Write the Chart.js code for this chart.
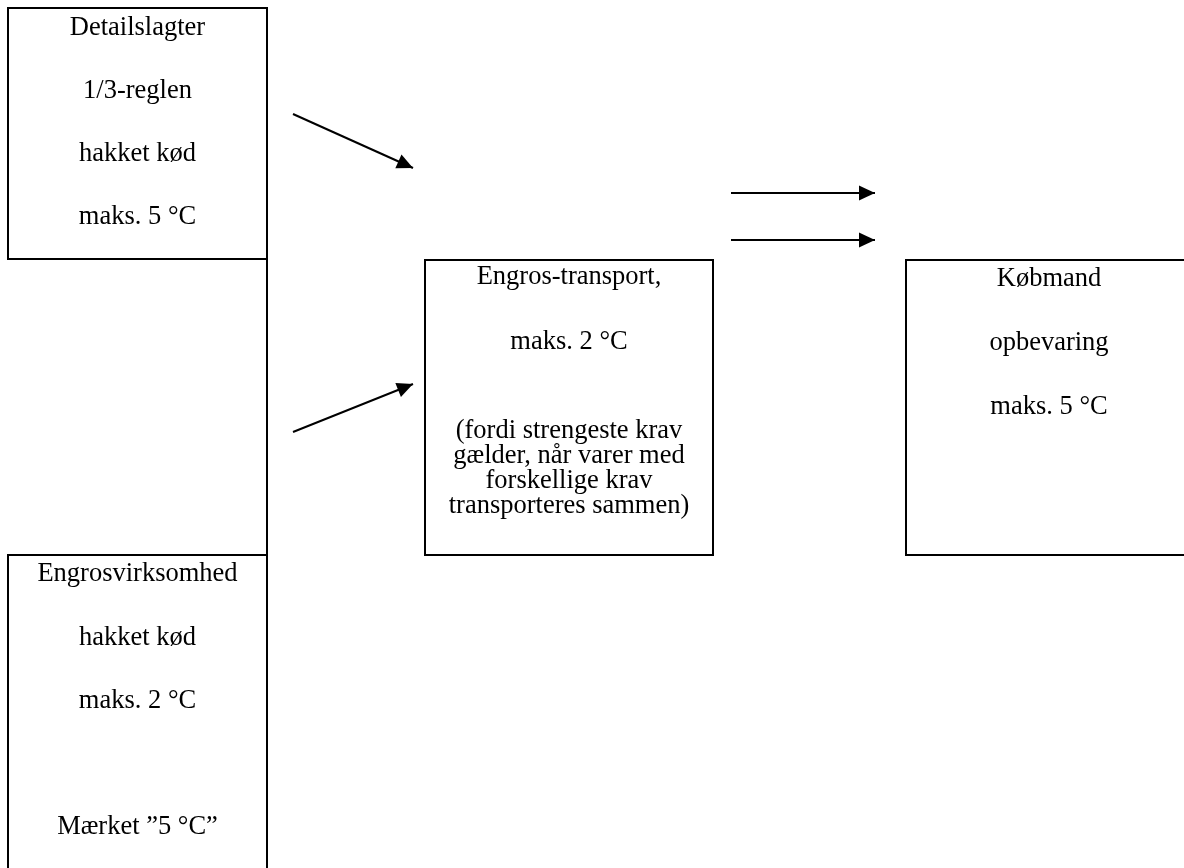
<!DOCTYPE html>
<html>
<head>
<meta charset="utf-8">
<script src="https://cdn.jsdelivr.net/npm/chart.js@4.4.1/dist/chart.umd.min.js"></script>
<style>
  html, body { margin: 0; padding: 0; background: #ffffff; }
  #wrap { width: 1184px; height: 868px; }
</style>
</head>
<body>
<div id="wrap"><canvas id="c" width="1184" height="868"></canvas></div>
<script>
// ---- Diagram content (text) ----
const box1Lines = ["Detailslagter", "1/3-reglen", "hakket kød", "maks. 5 °C"];
const box2Lines = ["Engrosvirksomhed", "hakket kød", "maks. 2 °C", "Mærket ”5 °C”"];
const box3Lines = ["Engros-transport,", "maks. 2 °C", "(fordi strengeste krav", "gælder, når varer med", "forskellige krav", "transporteres sammen)"];
const box4Lines = ["Købmand", "opbevaring", "maks. 5 °C"];

// ---- Diagram geometry (value space of the x / y scales) ----
const box1Outline = [[8, 8], [267, 8], [267, 259], [8, 259], [8, 8]];
const connector   = [[267, 259], [267, 555]];
const box2Outline = [[8, 875], [8, 555], [267, 555], [267, 875]];
const box3Outline = [[425, 260], [713, 260], [713, 555], [425, 555], [425, 260]];
const box4Outline = [[1195, 260], [906, 260], [906, 555], [1195, 555]];
const arrow1 = [[293, 114], [413, 168]];
const arrow2 = [[293, 432], [413, 384]];
const arrow3 = [[731, 193], [875, 193]];
const arrow4 = [[731, 240], [875, 240]];

const box1TextX = 137.5, box1TextY = [28, 91, 154, 217];
const box2TextX = 137.5, box2TextY = [574, 638, 701, 827];
const box3TextX = 569,   box3TextY = [277, 342, 431, 456, 481, 506];
const box4TextX = 1049,  box4TextY = [279, 343, 407];

const toPts = a => a.map(p => ({x: p[0], y: p[1]}));

function outlineDS(pts, w) {
  return { data: toPts(pts), showLine: true, borderColor: '#000', borderWidth: w,
           pointRadius: 0, fill: false, tension: 0, borderJoinStyle: 'miter',
           borderCapStyle: 'square', isArrow: false };
}
function arrowDS(pts) {
  return { data: toPts(pts), showLine: true, borderColor: '#000', borderWidth: 2,
           pointRadius: 0, fill: false, tension: 0, borderCapStyle: 'butt', isArrow: true };
}

const textBlocks = [
  {lines: box1Lines, x: box1TextX, ys: box1TextY},
  {lines: box2Lines, x: box2TextX, ys: box2TextY},
  {lines: box3Lines, x: box3TextX, ys: box3TextY},
  {lines: box4Lines, x: box4TextX, ys: box4TextY}
];

const diagramPlugin = {
  id: 'diagram',
  afterDatasetsDraw(chart) {
    const ctx = chart.ctx, xs = chart.scales.x, ys = chart.scales.y;
    ctx.save();
    // arrow heads
    chart.data.datasets.forEach(ds => {
      if (!ds.isArrow) return;
      const a = ds.data[0], b = ds.data[ds.data.length - 1];
      const x0 = xs.getPixelForValue(a.x), y0 = ys.getPixelForValue(a.y);
      const x1 = xs.getPixelForValue(b.x), y1 = ys.getPixelForValue(b.y);
      const ang = Math.atan2(y1 - y0, x1 - x0);
      const L = 16, W = 7.5;
      ctx.beginPath();
      ctx.moveTo(x1, y1);
      ctx.lineTo(x1 - L * Math.cos(ang) + W * Math.sin(ang), y1 - L * Math.sin(ang) - W * Math.cos(ang));
      ctx.lineTo(x1 - L * Math.cos(ang) - W * Math.sin(ang), y1 - L * Math.sin(ang) + W * Math.cos(ang));
      ctx.closePath();
      ctx.fillStyle = '#000';
      ctx.fill();
    });
    // texts
    ctx.fillStyle = '#000';
    ctx.font = '26.5px "Liberation Serif", "Times New Roman", serif';
    ctx.textAlign = 'center';
    ctx.textBaseline = 'middle';
    textBlocks.forEach(tb => {
      tb.lines.forEach((t, i) => {
        ctx.fillText(t, xs.getPixelForValue(tb.x), ys.getPixelForValue(tb.ys[i]));
      });
    });
    ctx.restore();
  }
};

const datasets = [
  outlineDS(box1Outline, 2),
  outlineDS(connector, 2),
  outlineDS(box2Outline, 2),
  outlineDS(box3Outline, 2),
  outlineDS(box4Outline, 2),
  arrowDS(arrow1), arrowDS(arrow2), arrowDS(arrow3), arrowDS(arrow4)
];

new Chart(document.getElementById('c'), {
  type: 'scatter',
  data: { datasets },
  options: {
    responsive: false,
    animation: false,
    layout: { padding: 0 },
    plugins: { legend: { display: false }, tooltip: { enabled: false }, title: { display: false } },
    scales: {
      x: { type: 'linear', min: 0, max: 1184, display: false },
      y: { type: 'linear', min: 0, max: 868, reverse: true, display: false }
    }
  },
  plugins: [diagramPlugin]
});
</script>
</body>
</html>
